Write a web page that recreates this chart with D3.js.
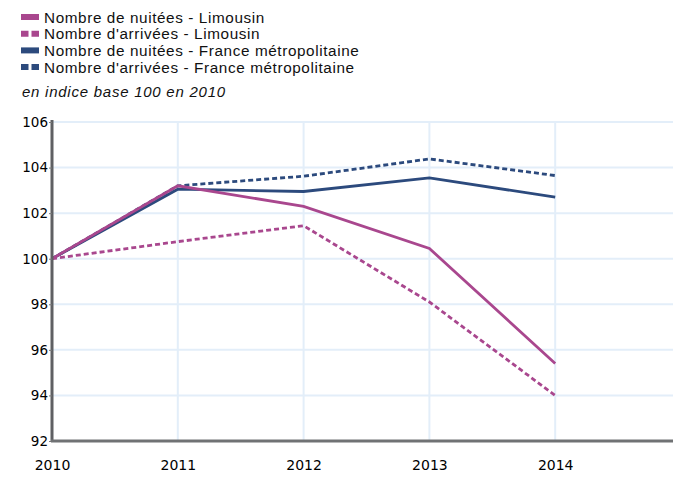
<!DOCTYPE html>
<html>
<head>
<meta charset="utf-8">
<script src="https://cdn.jsdelivr.net/npm/d3@7"></script>
<style>
body { margin: 0; background: #fff; }
svg { display: block; }
</style>
</head>
<body>
<svg width="673" height="477"></svg>
<script>
var years = [2010, 2011, 2012, 2013, 2014];
var nuiteesLimousin = [100, 103.2, 102.3, 100.45, 95.4];
var arriveesLimousin = [100, 100.75, 101.45, 98.1, 94.0];
var nuiteesFrance = [100, 103.05, 102.95, 103.55, 102.7];
var arriveesFrance = [100, 103.2, 103.62, 104.38, 103.65];
var yTicks = [92, 94, 96, 98, 100, 102, 104, 106];

var PINK = '#a9478e', BLUE = '#2c4a7d';
var series = [
    {name: 'Nombre de nuitées - Limousin', values: nuiteesLimousin, color: PINK, dash: null},
    {name: "Nombre d'arrivées - Limousin", values: arriveesLimousin, color: PINK, dash: '5,3'},
    {name: 'Nombre de nuitées - France métropolitaine', values: nuiteesFrance, color: BLUE, dash: null},
    {name: "Nombre d'arrivées - France métropolitaine", values: arriveesFrance, color: BLUE, dash: '5,3'}
];

var svg = d3.select('svg');
var x = d3.scaleLinear().domain([2010, 2015]).range([52, 681]);
var y = d3.scaleLinear().domain([92, 106]).range([441, 122]);

// grid
var grid = svg.append('g');
grid.selectAll('.hg').data(yTicks).enter().append('line')
    .attr('x1', 52).attr('x2', 673)
    .attr('y1', function(d) {return y(d);}).attr('y2', function(d) {return y(d);})
    .style('stroke', '#e3eef9').style('stroke-width', 2);
grid.selectAll('.vg').data(years.slice(1)).enter().append('line')
    .attr('x1', function(d) {return x(d);}).attr('x2', function(d) {return x(d);})
    .attr('y1', 122).attr('y2', 441)
    .style('stroke', '#e3eef9').style('stroke-width', 2);

// lines (drawn back to front)
var line = d3.line()
    .x(function(d, i) {return x(years[i]);})
    .y(function(d) {return y(d);});
svg.append('g').selectAll('path')
    .data(series.slice().reverse())
    .enter()
    .append('path')
    .attr('d', function(d) {return line(d.values);})
    .style('fill', 'none')
    .style('stroke', function(d) {return d.color;})
    .style('stroke-width', 2.8)
    .style('stroke-dasharray', function(d) {return d.dash;});

// axes
var yAxis = svg.append('g')
    .attr('transform', 'translate(52,0)')
    .call(d3.axisLeft(y).tickValues(yTicks).tickSize(3).tickFormat(d3.format('d')));
yAxis.select('.domain').attr('d', 'M0,120V442').style('stroke', '#5f6063').style('stroke-width', 3);
yAxis.selectAll('.tick line').style('stroke', '#777');
yAxis.selectAll('text')
    .attr('x', -4)
    .style('font-family', 'DejaVu Sans')
    .style('font-size', '13.5px')
    .style('fill', '#000');

var xAxis = svg.append('g')
    .attr('transform', 'translate(0,441)')
    .call(d3.axisBottom(x).tickValues(years).tickSize(0).tickFormat(d3.format('d')));
xAxis.select('.domain').attr('d', 'M51,0H673').style('stroke', '#707274').style('stroke-width', 3);
xAxis.selectAll('text')
    .attr('y', 19)
    .style('font-family', 'DejaVu Sans')
    .style('font-size', '14px')
    .style('fill', '#000');

// legend
var legend = svg.append('g').selectAll('g')
    .data(series)
    .enter()
    .append('g')
    .attr('transform', function(d, i) {return 'translate(0,' + (17 + i * 16.7) + ')';});
legend.append('line')
    .attr('x1', 21).attr('x2', 39)
    .style('stroke', function(d) {return d.color;})
    .style('stroke-width', 6)
    .style('stroke-dasharray', function(d) {return d.dash ? '7.5,3' : null;});
legend.append('text')
    .attr('x', 44)
    .attr('y', 5.5)
    .style('font-family', 'Liberation Sans, Arial')
    .style('font-size', '15.3px')
    .style('letter-spacing', '0.6px')
    .style('fill', '#111')
    .text(function(d) {return d.name;});

svg.append('text')
    .attr('x', 22).attr('y', 97)
    .style('font-family', 'Liberation Sans, Arial')
    .style('font-size', '15px')
    .style('letter-spacing', '0.75px')
    .style('font-style', 'italic')
    .style('fill', '#111')
    .text('en indice base 100 en 2010');
</script>
</body>
</html>
